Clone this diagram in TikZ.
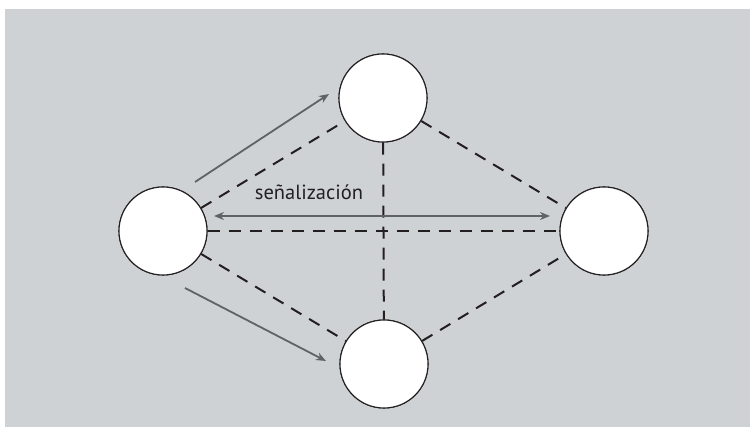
\documentclass[tikz,border=0pt]{standalone}
\usepackage{fontspec}
\setmainfont{PT Sans}
\usetikzlibrary{arrows.meta}
\definecolor{bggray}{HTML}{CFD2D5}
\definecolor{arrgray}{HTML}{5F6366}
\definecolor{inkdark}{HTML}{231F20}
\begin{document}
\begin{tikzpicture}[x=1pt,y=-1pt,
  station/.style={circle,draw=inkdark,fill=white,line width=1.1pt,minimum size=88pt,inner sep=0pt},
  link/.style={draw=inkdark,line width=2pt,dash pattern=on 12pt off 9pt},
  flow/.style={draw=arrgray,line width=1.8pt,-{Stealth[length=10pt,width=8pt]}},
  flowboth/.style={draw=arrgray,line width=1.8pt,{Stealth[length=10pt,width=8pt]}-{Stealth[length=10pt,width=8pt]}}]
\useasboundingbox (0,0) rectangle (750,427);
\fill[bggray] (5,9) rectangle (750,427);
\node[station] (L) at (163,231) {};
\node[station] (T) at (383,98) {};
\node[station] (B) at (384,364) {};
\node[station] (R) at (604,231) {};
\draw[link] (L) -- (T);
\draw[link] (L) -- (R);
\draw[link] (L) -- (B);
\draw[link] (T) -- (B);
\draw[link] (T) -- (R);
\draw[link] (B) -- (R);
\node[station] at (L) {};
\node[station] at (T) {};
\node[station] at (B) {};
\node[station] at (R) {};
\coordinate (a1s) at (195,182);
\coordinate (a1e) at (329,94);
\coordinate (a2s) at (185,288);
\coordinate (a2e) at (326,361);
\coordinate (h1) at (214,216);
\coordinate (h2) at (550,216);
\draw[flow] (a1s) -- (a1e);
\draw[flow] (a2s) -- (a2e);
\draw[flowboth] (h1) -- (h2);
\node[font=\fontsize{20.5}{24}\selectfont,text=inkdark] (lab) at (309,192) {señalización};
\end{tikzpicture}
\end{document}
